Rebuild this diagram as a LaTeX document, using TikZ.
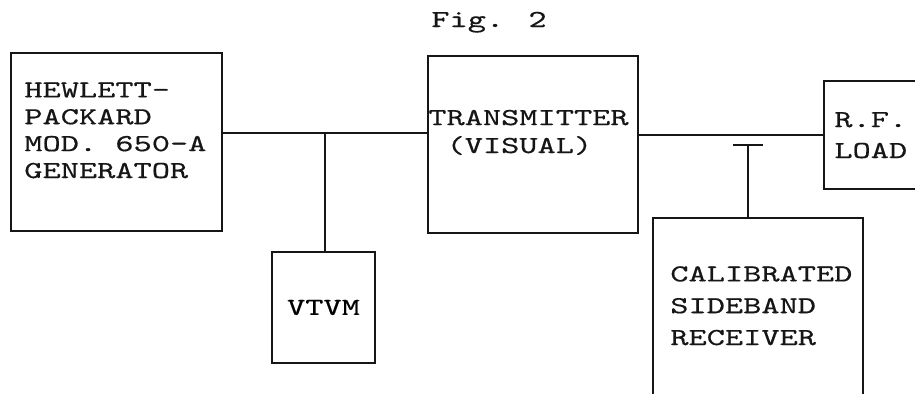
\documentclass[tikz,border=0pt]{standalone}
\usepackage{fontspec}
\newfontfamily\typewriter[FakeStretch=1.42,FakeBold=0.45]{lmmono10-regular.otf}
\definecolor{inkblack}{RGB}{22,22,22}
\tikzset{
  diagram box/.style={draw=inkblack,line width=1.3pt,inner sep=0pt,anchor=north west},
  diagram wire/.style={draw=inkblack,line width=1.2pt},
  diagram text/.style={anchor=base west,inner sep=0pt,align=left,text=inkblack}
}
\begin{document}
\begin{tikzpicture}[x=0.02cm,y=-0.02cm,font=\typewriter\fontsize{13.9pt}{15.5pt}\selectfont]
  \useasboundingbox (0,0) rectangle (915,393);
  \clip (0,0) rectangle (915,393);
  % blocks
  \node[diagram box,minimum width=4.22cm,minimum height=3.56cm] (hp) at (10,52) {};
  \node[diagram box,minimum width=4.2cm,minimum height=3.54cm] (tx) at (427,55) {};
  \node[diagram box,anchor=center,minimum width=2.06cm,minimum height=2.22cm] (vtvm) at (323.5,307.5) {VTVM};
  \node[diagram box,minimum width=3.04cm,minimum height=2.16cm] (load) at (823,80) {};
  \node[diagram box,minimum width=4.2cm,minimum height=4.66cm] (rx) at (652,217) {};
  % labels (base = last line)
  \node[diagram text] (figlabel) at (431,27) {Fig. 2};
  \node[diagram text,font=\typewriter\fontsize{13.9pt}{15.3pt}\selectfont] (hptext) at (24,178) {HEWLETT-\\PACKARD\\MOD. 650-A\\GENERATOR};
  \node[diagram text,font=\typewriter\fontsize{13.9pt}{15.9pt}\selectfont] (txtext) at (428,153) {TRANSMITTER\\\ (VISUAL)};
  \node[diagram text,font=\typewriter\fontsize{13.9pt}{17.6pt}\selectfont] (loadtext) at (834,158) {R.F.\\LOAD};
  \node[diagram text,font=\typewriter\fontsize{13.9pt}{18.1pt}\selectfont] (rxtext) at (670,345) {CALIBRATED\\SIDEBAND\\RECEIVER};
  % wiring
  \coordinate (vtap) at (325,133);
  \coordinate (rfline) at (700,135);
  \coordinate (tee) at (748,145);
  \coordinate (teeleft) at (733,145);
  \coordinate (teeright) at (763,145);
  \draw[diagram wire] (hp.east |- vtap) -- (tx.west |- vtap);
  \draw[diagram wire] (vtap) -- (vtvm.north -| vtap);
  \draw[diagram wire] (tx.east |- rfline) -- (load.west |- rfline);
  \draw[diagram wire] (teeleft) -- (teeright);
  \draw[diagram wire] (tee) -- (rx.north -| tee);
\end{tikzpicture}
\end{document}
